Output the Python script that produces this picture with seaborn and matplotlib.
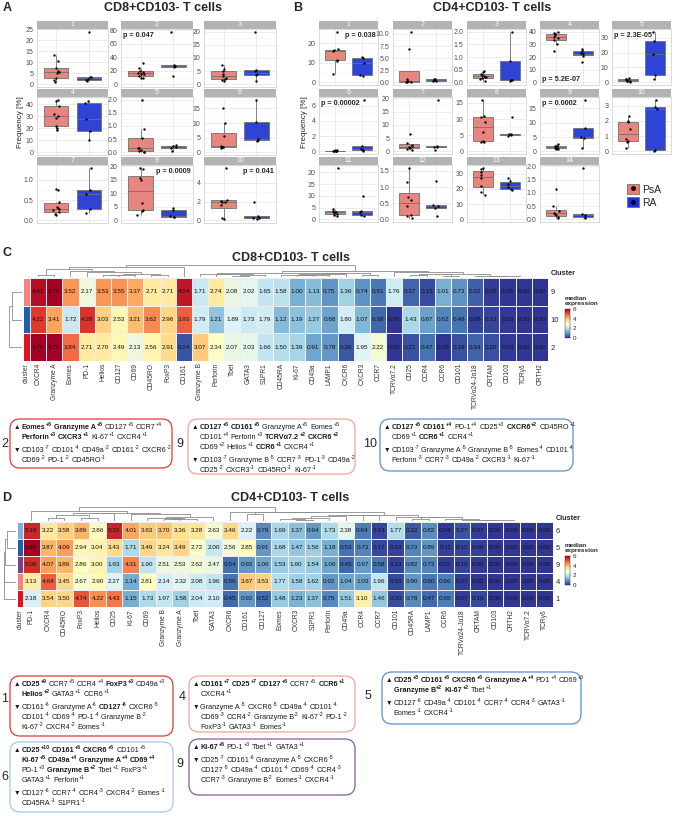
import re

import matplotlib
matplotlib.use('Agg')
import matplotlib.pyplot as plt
import numpy as np
import pandas as pd
import seaborn as sns
from matplotlib import font_manager
from matplotlib.colors import ListedColormap, Normalize
from matplotlib.lines import Line2D
from matplotlib.patches import FancyBboxPatch, Patch
from matplotlib.ticker import AutoMinorLocator, MultipleLocator

# ---------------- A: CD8+CD103- T cells, frequency [%] per cluster
a_panels = ['1', '2', '3', '4', '5', '6', '7', '9', '10']
a_psa = [
    [13.2, 10.5, 7.5, 6.0, 5.5, 5.0, 3.0, 2.0, 1.0],
    [31, 24, 20, 18, 17, 16, 15, 12, 10, 9],
    [7.5, 6.0, 5.0, 4.0, 3.0, 2.5, 2.0, 1.5, 1.2],
    [44, 43, 39, 32, 30, 29, 22, 20, 19],
    [2.0, 0.9, 0.55, 0.18, 0.15, 0.1, 0.05, 0.03, 0.02],
    [15, 10, 5.5, 2.2, 2.0, 1.9, 1.8, 1.6],
    [0.78, 0.75, 0.45, 0.33, 0.3, 0.28, 0.25, 0.2, 0.15, 0.12],
    [19.5, 19, 15.5, 15, 6.5, 4, 3.5, 2],
    [5.6, 2.2, 2.1, 2.0, 2.0, 1.6, 0.3, 0.15],
]
a_ra = [
    [24, 3.5, 3.2, 2.5, 2.0, 1.5],
    [78, 29, 27, 25, 13],
    [20, 5.5, 5.0, 4.0, 3.5, 1.2],
    [43, 41, 28, 18, 10],
    [0.28, 0.25, 0.2, 0.15, 0.05],
    [18, 10.5, 4.5, 4.2, 4.0],
    [1.3, 0.75, 0.65, 0.27, 0.17],
    [4.5, 4.0, 1.5, 1.3, 1.2],
    [2.0, 0.5, 0.25, 0.2, 0.1],
]
a_pvals = ['', 'p = 0.047', '', '', '', '', '', 'p = 0.0009', 'p = 0.041']
a_steps = [5, 20, 5, 10, 0.5, 5, 0.5, 5, 2]

# ---------------- B: CD4+CD103- T cells
b_panels = [str(i) for i in range(1, 15)]
b_psa = [
    [26, 17, 16.5, 16, 11.5, 11, 4.5],
    [10.5, 6.8, 0.8, 0.3, 0.2, 0.15, 0.1, 0.05],
    [0.45, 0.4, 0.35, 0.3, 0.25, 0.22, 0.2, 0.18, 0.15, 0.05],
    [40, 39, 38, 37, 36, 35, 33, 30, 25],
    [3.0, 2.5, 2.0, 1.5, 1.2, 1.0, 0.8, 0.5],
    [0.18, 0.15, 0.1, 0.08, 0.05, 0.03, 0.02, 0.01],
    [6.5, 3.0, 2.5, 2.0, 1.5, 1.2, 1.0, 0.5],
    [16, 11, 10.5, 9, 6, 3.1, 3.0, 2.8],
    [2.5, 2.0, 1.8, 1.5, 1.3, 1.2, 1.0, 0.8],
    [2.3, 2.0, 1.9, 1.5, 0.8, 0.7, 0.6, 0.2],
    [22, 4.5, 3.5, 3.2, 3.0, 2.8, 2.5, 1.8, 1.5],
    [1.6, 1.15, 0.7, 0.6, 0.4, 0.15, 0.1, 0.05],
    [34, 33, 31, 29, 27, 22, 18, 16],
    [1.15, 0.5, 0.3, 0.25, 0.2, 0.15, 0.1, 0.05],
]
b_ra = [
    [13, 12.5, 10, 4, 3.5],
    [0.8, 0.7, 0.5, 0.3, 0.2],
    [2.0, 0.85, 0.1, 0.08, 0.05],
    [26, 25, 23, 22, 21, 16],
    [34, 28, 19, 5, 2],
    [6.8, 0.7, 0.3, 0.15, 0.1],
    [19.5, 2.0, 1.8, 1.5, 0.5],
    [10.5, 5.5, 5.3, 5.2, 4.7],
    [18, 8, 5, 4.8, 1.2],
    [3.4, 2.9, 2.8, 0.1, 0.05],
    [10, 3.5, 3.0, 1.8, 1.5],
    [1.2, 0.45, 0.42, 0.35, 0.1],
    [27, 25, 23, 21, 20, 19],
    [1.95, 0.2, 0.15, 0.1, 0.05],
]
b_pvals = ['p = 0.038', '', '', 'p = 5.2E-07', 'p = 2.3E-05', 'p = 0.00002', '', '',
           'p = 0.0002', '', '', '', '', '']
b_steps = [10, 2.5, 0.5, 10, 10, 2, 5, 5, 5, 1, 5, 0.5, 10, 0.5]

# ---------------- C: median expression, CD8+CD103- clusters
c_markers = ['CXCR4', 'Granzyme A', 'Eomes', 'PD-1', 'Helios', 'CD127', 'CD69', 'CD45RO',
             'FoxP3', 'CD161', 'Granzyme B', 'Perforin', 'Tbet', 'GATA3', 'S1PR1', 'CD45RA',
             'Ki-67', 'CD49a', 'LAMP1', 'CXCR6', 'CXCR3', 'CCR7', 'TCRVα7.2', 'CD25', 'CCR4',
             'CCR6', 'CD101', 'TCRVα24-Jα18', 'CRTAM', 'CD103', 'TCRγδ', 'CRTH2']
c_clusters = ['9', '10', '2']
c_values = [
    [4.63, 4.78, 3.52, 2.17, 3.53, 3.55, 3.37, 2.71, 2.71, 4.54, 1.71, 2.74, 2.08, 2.02, 1.65, 1.58,
     1.00, 1.13, 0.75, 1.36, 0.74, 0.51, 1.76, 0.37, 0.15, 1.01, 0.73, 0.32, 0.05, 0.00, 0.00, 0.00],
    [4.22, 3.41, 1.72, 4.28, 3.03, 2.53, 3.21, 3.62, 2.96, 3.93, 1.79, 1.21, 1.89, 1.73, 1.79, 1.12,
     1.19, 1.27, 0.88, 1.80, 1.07, 0.38, 0.00, 1.43, 0.87, 0.62, 0.48, 0.08, 0.13, 0.03, 0.00, 0.00],
    [4.79, 4.78, 3.84, 2.71, 2.70, 2.49, 2.13, 2.56, 2.91, 0.24, 3.07, 2.34, 2.07, 2.03, 1.66, 1.50,
     1.39, 0.91, 0.78, 0.26, 1.95, 2.22, 0.00, 0.21, 0.47, 0.00, 0.19, 0.34, 0.20, 0.03, 0.00, 0.00],
]

# ---------------- D: median expression, CD4+CD103- clusters
d_markers = ['PD-1', 'CXCR4', 'CD45RO', 'FoxP3', 'Helios', 'CD25', 'Ki-67', 'CD69', 'Granzyme B',
             'Granzyme A', 'Tbet', 'GATA3', 'CXCR6', 'CD161', 'CD127', 'Eomes', 'CXCR3', 'S1PR1',
             'Perforin', 'CD49a', 'CCR4', 'CCR7', 'CD101', 'CD45RA', 'LAMP1', 'CCR6',
             'TCRVα24-Jα18', 'CRTAM', 'CD103', 'CRTH2', 'TCRVα7.2', 'TCRγδ']
d_clusters = ['6', '5', '9', '4', '1']
d_values = [
    [5.19, 3.22, 3.58, 3.89, 2.86, 5.20, 4.01, 3.63, 3.70, 3.36, 3.28, 2.63, 3.46, 2.22, 0.79, 1.69,
     1.37, 0.94, 1.73, 2.38, 0.64, 0.14, 1.77, 0.32, 0.82, 0.04, 0.27, 0.07, 0.01, 0.00, 0.00, 0.00],
    [5.64, 3.87, 4.09, 2.94, 3.04, 3.43, 1.71, 3.49, 3.24, 3.49, 2.72, 2.00, 2.56, 2.85, 0.91, 1.68,
     1.47, 1.56, 1.18, 0.53, 0.73, 0.17, 0.13, 0.73, 0.89, 0.11, 0.15, 0.09, 0.00, 0.00, 0.00, 0.00],
    [5.09, 4.07, 3.86, 2.86, 3.00, 1.63, 4.31, 1.90, 2.51, 2.53, 2.62, 2.47, 0.54, 0.92, 1.06, 1.53,
     1.60, 1.54, 1.06, 0.45, 0.97, 0.58, 0.13, 0.82, 0.73, 0.07, 0.15, 0.05, 0.00, 0.00, 0.00, 0.00],
    [3.13, 4.64, 3.45, 2.67, 2.90, 2.27, 1.14, 2.81, 2.14, 2.32, 2.08, 1.96, 0.56, 3.67, 3.53, 1.77,
     1.58, 1.62, 0.92, 1.04, 1.03, 1.96, 0.16, 0.90, 0.60, 0.66, 0.07, 0.02, 0.00, 0.00, 0.00, 0.00],
    [2.18, 3.54, 3.50, 4.74, 4.22, 4.43, 1.15, 1.73, 1.97, 1.58, 2.04, 2.10, 0.45, 0.92, 0.52, 1.48,
     1.23, 1.37, 0.75, 1.51, 3.10, 1.46, 0.20, 0.78, 0.47, 0.65, 0.07, 0.16, 0.00, 0.00, 0.00, 0.00],
]

# ---------------- cluster summaries (^ up, v down, ! bold)
c_note_ids = ['2', '9', '10']
c_note_lines = [
    ['^ !Eomes+6; !Granzyme A+5; CD127+5; CCR7+4',
     '!Perforin+3; !CXCR3+1; Ki-67+1; CXCR4+1',
     'v CD103-7; CD101-4; CD49a-2; CD161-2; CXCR6-2',
     'CD69-2; PD-1-2; CD45RO-1'],
    ['^ !CD127+6; !CD161+5; Granzyme A+5; Eomes+5',
     'CD101+4; Perforin+3; !TCRVα7.2+2; !CXCR6+2',
     'CD69+2; Helios+1; !CCR6+1; CXCR4+1',
     'v CD103-7; Granzyme B-5; CCR7-3; PD-1-3; CD49a-2',
     'CD25-2; CXCR3-1; CD45RO-1; Ki-67-1'],
    ['^ !CD127+5; !CD161+4; PD-1+4; CD25+3; !CXCR6+2; CD45RO+1',
     'CD69+1; !CCR6+1; CCR4+1',
     'v CD103-7; Granzyme A-5; Granzyme B-5; Eomes-4; CD101-4',
     'Perforin-3; CCR7-3; CD49a-2; CXCR3-1; Ki-67-1'],
]
d_note_ids = ['1', '4', '5', '6', '9']
d_note_lines = [
    ['^ !CD25+9; CCR7+5; CCR4+4; !FoxP3+3; CD49a+3',
     '!Helios+2; GATA3+1; CCR6+1',
     'v CD161-6; Granzyme A-6; !CD127-6; CXCR6-5',
     'CD101-4; CD69-4; PD-1-4; Granzyme B-2',
     'Ki-67-2; CXCR4-2; Eomes-1'],
    ['^ !CD161+7; !CD25+7; !CD127+6; CCR7+5; !CCR6+1',
     'CXCR4+1',
     'v Granzyme A-5; CXCR6-5; CD49a-4; CD101-4',
     'CD69-3; CCR4-2; Granzyme B-2; Ki-67-2; PD-1-2',
     'FoxP3-1; GATA3-1; Eomes-1'],
    ['^ !CD25+8; !CD161+6; !CXCR6+6; !Granzyme A+4; PD1+4; CD69+3',
     '!Granzyme B+2; !Ki-67+2; Tbet+1',
     'v CD127-6; CD49a-4; CD101-4; CCR7-4; CCR4-3; GATA3-1',
     'Eomes-1; CXCR4-1'],
    ['^ !CD25+10; !CD161+6; !CXCR6+6; CD101+5',
     '!Ki-67+5; !CD49a+4; !Granzyme A+4; !CD69+4',
     'PD-1+3; !Granzyme B+2; Tbet+1; FoxP3+1',
     'GATA3+1; Perforin+1',
     'v CD127-6; CCR7-4; CCR4-3; CXCR4-2; Eomes-1',
     'CD45RA-1; S1PR1-1'],
    ['^ !Ki-67+5; PD-1+3; Tbet+1; GATA3+1',
     'v CD25-7; CD161-6; Granzyme A-5; CXCR6-5',
     'CD127-5; CD49a-4; CD101-4; CD69-4; CCR4-3',
     'CCR7-3; Granzyme B-2; Eomes-1; CXCR4-1'],
]

W, H, DPI = 674, 816, 100
PSA, RA = '#f8766d', '#1430f0'

sns.set_style('white')
plt.rcParams['font.family'] = ['Liberation Sans', 'DejaVu Sans']
installed = {f.name for f in font_manager.fontManager.ttflist}
NOTE_FONT = ['Liberation Sans Narrow', 'DejaVu Sans'] if 'Liberation Sans Narrow' in installed \
    else ['Liberation Sans', 'DejaVu Sans']

fig = plt.figure(figsize=(W / DPI, H / DPI), dpi=DPI)
np.random.seed(7)


def px_ax(x0, y0, x1, y1):
    return fig.add_axes([x0 / W, 1 - y1 / H, (x1 - x0) / W, (y1 - y0) / H])


def ftext(x, y, s, **kw):
    return fig.text(x / W, 1 - y / H, s, **kw)


def facet(x0, x1, ys, ye, label, psa, ra, step, ptxt, ploc):
    strip = px_ax(x0, ys, x1, ys + 8)
    strip.set_facecolor('#b3b3b3')
    strip.set_xticks([])
    strip.set_yticks([])
    for s in strip.spines.values():
        s.set_visible(False)
    strip.text(0.5, 0.5, label, color='white', fontsize=5, ha='center', va='center',
               transform=strip.transAxes)

    ax = px_ax(x0, ys + 8, x1, ye)
    df = pd.DataFrame({'group': ['PsA'] * len(psa) + ['RA'] * len(ra), 'value': psa + ra})
    sns.boxplot(data=df, x='group', y='value', hue='group', order=['PsA', 'RA'],
                palette={'PsA': PSA, 'RA': RA}, showfliers=False, showcaps=False, width=0.75,
                linewidth=0.6, linecolor='#707070', legend=False, ax=ax)
    sns.stripplot(data=df, x='group', y='value', order=['PsA', 'RA'], color='black', size=1.7,
                  jitter=0.1, ax=ax, zorder=4)
    hi = max(psa + ra)
    ax.set_ylim(-0.05 * hi, hi * 1.05)
    ax.set_xlim(-0.6, 1.6)
    ax.yaxis.set_major_locator(MultipleLocator(step))
    ax.yaxis.set_minor_locator(AutoMinorLocator(2))
    ax.set_xticks([0, 1])
    ax.set_xticklabels([])
    ax.set_xlabel('')
    ax.set_ylabel('')
    ax.tick_params(axis='x', length=0)
    ax.tick_params(axis='y', which='major', labelsize=5, labelcolor='#4d4d4d', color='#4d4d4d',
                   length=1.5, width=0.4, pad=1)
    ax.tick_params(axis='y', which='minor', length=0)
    ax.grid(True, which='major', color='#e4e4e4', lw=0.5)
    ax.grid(True, which='minor', axis='y', color='#f2f2f2', lw=0.4)
    ax.set_axisbelow(True)
    for s in ax.spines.values():
        s.set_color('#cccccc')
        s.set_linewidth(0.5)
    if ptxt:
        xs, ha = (0.03, 'left') if ploc[1] == 'l' else (0.97, 'right')
        yv, va = (0.95, 'top') if ploc[0] == 't' else (0.04, 'bottom')
        ax.text(xs, yv, ptxt, fontsize=5.2, fontweight='bold', ha=ha, va=va,
                transform=ax.transAxes, zorder=6)


# ---- A
a_cols = [(37, 108), (121, 193), (204, 276)]
a_rows = [(21, 87), (89, 155), (157, 223)]
a_ploc = {1: 'tl', 7: 'tr', 8: 'tr'}
for i, lab in enumerate(a_panels):
    (x0, x1), (ys, ye) = a_cols[i % 3], a_rows[i // 3]
    facet(x0, x1, ys, ye, lab, a_psa[i], a_ra[i], a_steps[i], a_pvals[i], a_ploc.get(i, 'tl'))

# ---- B
b_lefts = [319, 393, 467, 540, 612]
b_rows = [(21, 85), (89, 154), (157, 222)]
b_ploc = {0: 'tr', 3: 'bl', 4: 'tl', 5: 'tl', 8: 'tl'}
for i, lab in enumerate(b_panels):
    x0, (ys, ye) = b_lefts[i % 5], b_rows[i // 5]
    facet(x0, x0 + 59, ys, ye, lab, b_psa[i], b_ra[i], b_steps[i], b_pvals[i], b_ploc.get(i, 'tl'))

ftext(7, 8, 'A', fontsize=9, fontweight='bold', ha='center', va='center')
ftext(298, 8, 'B', fontsize=9, fontweight='bold', ha='center', va='center')
ftext(163, 8, 'CD8+CD103- T cells', fontsize=9, fontweight='bold', ha='center', va='center')
ftext(492, 8, 'CD4+CD103- T cells', fontsize=9, fontweight='bold', ha='center', va='center')
ftext(21, 122, 'Frequency [%]', fontsize=5.8, rotation=90, ha='center', va='center')
ftext(305, 122, 'Frequency [%]', fontsize=5.8, rotation=90, ha='center', va='center')

handles = [(Patch(fc=PSA, ec='#707070', lw=0.6), Line2D([], [], marker='o', color='black', ls='', ms=2.5)),
           (Patch(fc=RA, ec='#707070', lw=0.6), Line2D([], [], marker='o', color='black', ls='', ms=2.5))]
fig.legend(handles, ['PsA', 'RA'], loc='upper left', bbox_to_anchor=(622 / W, 1 - 179 / H),
           frameon=False, fontsize=7.5, handlelength=1.1, handleheight=1.1, handletextpad=0.35,
           labelspacing=0.25, borderpad=0)


# ---- heatmaps
def adjacent_tree(X):
    # agglomerate neighbouring groups only, so the leaf order stays as shown
    groups = [dict(idx=[i], x=i + 0.5, h=0.0) for i in range(len(X))]
    segs = []
    while len(groups) > 1:
        d = [np.linalg.norm(X[g['idx']].mean(0) - X[k['idx']].mean(0))
             for g, k in zip(groups[:-1], groups[1:])]
        j = int(np.argmin(d))
        a, b = groups[j], groups[j + 1]
        h = max(d[j], a['h'], b['h']) + 0.02
        segs.append([(a['x'], a['h']), (a['x'], h), (b['x'], h), (b['x'], b['h'])])
        groups[j:j + 2] = [dict(idx=a['idx'] + b['idx'], x=(a['x'] + b['x']) / 2, h=h)]
    return segs


def heat_block(values, markers, clusters, ann_colors, xa, xh0, xh1, yt, yb, dtop, dleft, cb_top):
    vals = np.array(values)
    n_r, n_c = vals.shape

    axd = px_ax(xh0, dtop, xh1, yt - 1)
    segs = adjacent_tree(vals.T)
    for s in segs:
        axd.plot([p[0] for p in s], [p[1] for p in s], color='#8c8c8c', lw=0.6)
    axd.set_xlim(0, n_c)
    axd.set_ylim(0, max(s[1][1] for s in segs) * 1.02)
    axd.axis('off')

    axr = px_ax(dleft, yt, xa - 1, yb)
    rsegs = adjacent_tree(vals)
    for s in rsegs:
        axr.plot([p[1] for p in s], [p[0] for p in s], color='#8c8c8c', lw=0.6)
    axr.set_xlim(max(s[1][1] for s in rsegs) * 1.02, 0)
    axr.set_ylim(n_r, 0)
    axr.axis('off')

    axa = px_ax(xa, yt, xh0, yb)
    sns.heatmap(np.arange(n_r).reshape(-1, 1), cmap=ListedColormap(ann_colors), cbar=False,
                ax=axa, xticklabels=['cluster'], yticklabels=False, linewidths=0.5,
                linecolor='white')
    axa.tick_params(axis='x', labelsize=4.8, rotation=90, length=0, pad=1.5, labelcolor='#333333')

    axh = px_ax(xh0, yt, xh1, yb)
    df = pd.DataFrame(vals, index=clusters, columns=markers)
    sns.heatmap(df, ax=axh, cmap='RdYlBu_r', vmin=0, vmax=vals.max(), annot=True, fmt='.2f',
                annot_kws={'size': 4.6, 'color': '#111111'}, linewidths=0.6, linecolor='#eeeeee',
                cbar=False, xticklabels=True, yticklabels=True)
    axh.yaxis.tick_right()
    axh.tick_params(axis='y', labelsize=5.5, rotation=0, length=0, pad=2)
    axh.tick_params(axis='x', labelsize=4.8, rotation=90, length=0, pad=1.5, labelcolor='#333333')
    axh.set_xlabel('')
    axh.set_ylabel('')

    ftext(xh1 + 3, yt - 4, 'Cluster', fontsize=5.2, fontweight='bold', ha='left', va='center')
    ftext(565, cb_top - 13, 'median\nexpression', fontsize=4.6, fontweight='bold', ha='left',
          va='top', linespacing=0.95)
    cax = px_ax(565, cb_top, 570, cb_top + 29)
    cb = fig.colorbar(plt.cm.ScalarMappable(norm=Normalize(0, 6), cmap='RdYlBu_r'), cax=cax,
                      ticks=[0, 2, 4, 6])
    cb.ax.tick_params(labelsize=4.5, length=1, width=0.3, pad=1)
    cb.outline.set_linewidth(0.3)


heat_block(c_values, c_markers, c_clusters, ['#f8827a', '#1f5fad', '#e0141c'],
           23, 30, 548, 278, 361, 265, 9, 309)
heat_block(d_values, d_markers, d_clusters, ['#79aee0', '#1f5fad', '#7b3f8e', '#f8827a', '#e0141c'],
           17, 23, 553, 522, 607, 507, 4, 556)

ftext(7, 253, 'C', fontsize=9, fontweight='bold', ha='center', va='center')
ftext(291, 258, 'CD8+CD103- T cells', fontsize=9, fontweight='bold', ha='center', va='center')
ftext(7, 498, 'D', fontsize=9, fontweight='bold', ha='center', va='center')
ftext(290, 498, 'CD4+CD103- T cells', fontsize=9, fontweight='bold', ha='center', va='center')

# ---- cluster summary boxes
renderer = fig.canvas.get_renderer()
NFS = 5.25


def put(x, y, s, size, bold):
    t = fig.text(x / DPI, (H - y) / DPI, s, transform=fig.dpi_scale_trans, fontsize=size,
                 fontweight='bold' if bold else 'normal', family=NOTE_FONT, va='baseline',
                 color='#1a1a1a')
    return t.get_window_extent(renderer).width


def note(label, lines, x0, y0, x1, y1, color, lx, ly):
    fig.add_artist(FancyBboxPatch((x0 / DPI, (H - y1) / DPI), (x1 - x0) / DPI, (y1 - y0) / DPI,
                                  boxstyle='round,pad=0,rounding_size=0.1',
                                  transform=fig.dpi_scale_trans, fc='white', ec=color, lw=0.9))
    ftext(lx, ly, label, fontsize=9, ha='center', va='center')
    y = y0 + 10
    for i, line in enumerate(lines):
        if line[:2] in ('^ ', 'v '):
            marker = '▲' if line[0] == '^' else '▼'
            line = line[2:]
            if i > 0:
                y += 3
            put(x0 + 4, y, marker, 4.8, False)
        x = x0 + 11.5
        for tok in line.split('; '):
            bold = tok.startswith('!')
            name, sup = re.match(r'^(.*?)([+-]\d+)$', tok.lstrip('!')).groups()
            x += put(x, y, name, NFS, bold) + 0.4
            x += put(x, y - 3.2, sup, NFS * 0.72, bold) + 2.2
        y += 10


c_boxes = [(10, 419, 172, 468, '#e03a34', 5, 444), (188, 419, 355, 474, '#f4a29b', 180, 444),
           (380, 419, 573, 471, '#5b8fd0', 370, 444)]
for lab, lines, (x0, y0, x1, y1, col, lx, ly) in zip(c_note_ids, c_note_lines, c_boxes):
    note(lab, lines, x0, y0, x1, y1, col, lx, ly)

d_boxes = [(10, 676, 173, 736, '#e03a34', 5, 699), (189, 676, 355, 732, '#f4a29b', 182, 697),
           (382, 672, 581, 724, '#5b8fd0', 368, 696), (10, 742, 173, 812, '#a6c8ec', 5, 777),
           (189, 739, 355, 795, '#8e5a9a', 180, 764)]
for lab, lines, (x0, y0, x1, y1, col, lx, ly) in zip(d_note_ids, d_note_lines, d_boxes):
    note(lab, lines, x0, y0, x1, y1, col, lx, ly)

fig.savefig('out.png', dpi=DPI)
